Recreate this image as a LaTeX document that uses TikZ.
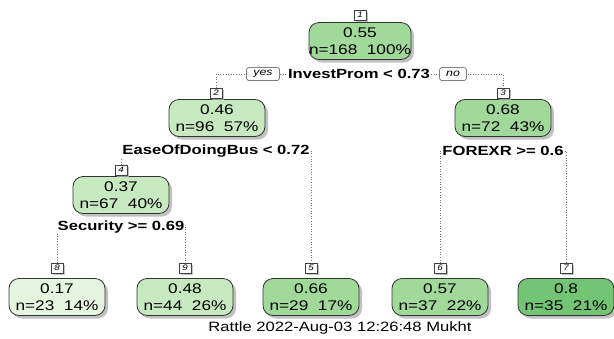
\documentclass[tikz,border=0pt]{standalone}
\usepackage{fontspec}
\setmainfont{Liberation Sans}
\newfontfamily\nodefont[FakeStretch=1.23]{Liberation Sans}
\newfontfamily\splitfont[FakeStretch=1.25]{Liberation Sans}
\usetikzlibrary{shadows,backgrounds}

\definecolor{gA}{HTML}{E5F5E0}
\definecolor{gB}{HTML}{C7E9C0}
\definecolor{gC}{HTML}{A1D99B}
\definecolor{gD}{HTML}{74C476}

\tikzset{
  x=1pt, y=-1pt,
  tnode/.style={draw=black!80, line width=0.8pt, rounded corners=10pt,
    minimum width=96pt, minimum height=37pt, inner sep=0pt, align=center,
    font=\nodefont\fontsize{14}{17}\selectfont,
    drop shadow={shadow xshift=3pt, shadow yshift=-3pt, fill=black!30, opacity=0.8}},
  idbox/.style={draw=black!75, line width=0.5pt, fill=white,
    minimum width=12pt, minimum height=10pt, inner sep=0pt,
    font=\nodefont\itshape\fontsize{8}{8}\selectfont,
    drop shadow={shadow xshift=2pt, shadow yshift=-2pt, fill=black!30, opacity=0.8}},
  splitlabel/.style={fill=white, inner sep=1pt,
    font=\splitfont\bfseries\fontsize{13.3}{14}\selectfont},
  yesno/.style={draw=black!75, line width=0.5pt, fill=white, rounded corners=2.5pt,
    inner sep=0pt, minimum height=13pt,
    font=\nodefont\itshape\fontsize{10}{10}\selectfont},
  link/.style={draw=black!55, dotted, line width=0.6pt},
}

\begin{document}
\begin{tikzpicture}
\useasboundingbox (0,0) rectangle (614,338);

% tree nodes
\node[tnode, fill=gC] (n1) at (360,41)  {0.55\\n=168\ \ 100\%};
\node[tnode, fill=gB] (n2) at (217,118) {0.46\\n=96\ \ 57\%};
\node[tnode, fill=gC] (n3) at (503,118) {0.68\\n=72\ \ 43\%};
\node[tnode, fill=gB] (n4) at (121,195) {0.37\\n=67\ \ 40\%};
\node[tnode, fill=gA] (n8) at (57,297)  {0.17\\n=23\ \ 14\%};
\node[tnode, fill=gB] (n9) at (185,297) {0.48\\n=44\ \ 26\%};
\node[tnode, fill=gC] (n5) at (311,297) {0.66\\n=29\ \ 17\%};
\node[tnode, fill=gC] (n6) at (440,297) {0.57\\n=37\ \ 22\%};
\node[tnode, fill=gD] (n7) at (566,297) {0.8\\n=35\ \ 21\%};

% node numbers
\node[idbox] (l1) at (360,15)  {1};
\node[idbox] (l2) at (216,93)  {2};
\node[idbox] (l3) at (503,93)  {3};
\node[idbox] (l4) at (121,170) {4};
\node[idbox] (l8) at (57,268)  {8};
\node[idbox] (l9) at (185,268) {9};
\node[idbox] (l5) at (311,268) {5};
\node[idbox] (l6) at (440,268) {6};
\node[idbox] (l7) at (566,268) {7};

% split rules
\node[splitlabel] (s1) at (359,74)  {InvestProm < 0.73};
\node[yesno, minimum width=33pt] (yes) at (263,74) {yes};
\node[yesno, minimum width=27pt] (no)  at (453,74) {no};
\node[splitlabel] (s2) at (216,151) {EaseOfDoingBus < 0.72};
\node[splitlabel] (s3) at (503,151) {FOREXR >= 0.6};
\node[splitlabel] (s4) at (121,227) {Security >= 0.69};

% caption
\node[font=\nodefont\fontsize{13.5}{14}\selectfont] (cap) at (340,328)
  {Rattle 2022-Aug-03 12:26:48 Mukht};

% dotted branches
\begin{scope}[on background layer]
  \draw[link] (l2.north) |- (s1) -| (l3.north);
  \draw[link] (l4.north) |- (s2) -| (l5.north);
  \draw[link] (l6.north) |- (s3) -| (l7.north);
  \draw[link] (l8.north) |- (s4) -| (l9.north);
\end{scope}
\end{tikzpicture}
\end{document}
